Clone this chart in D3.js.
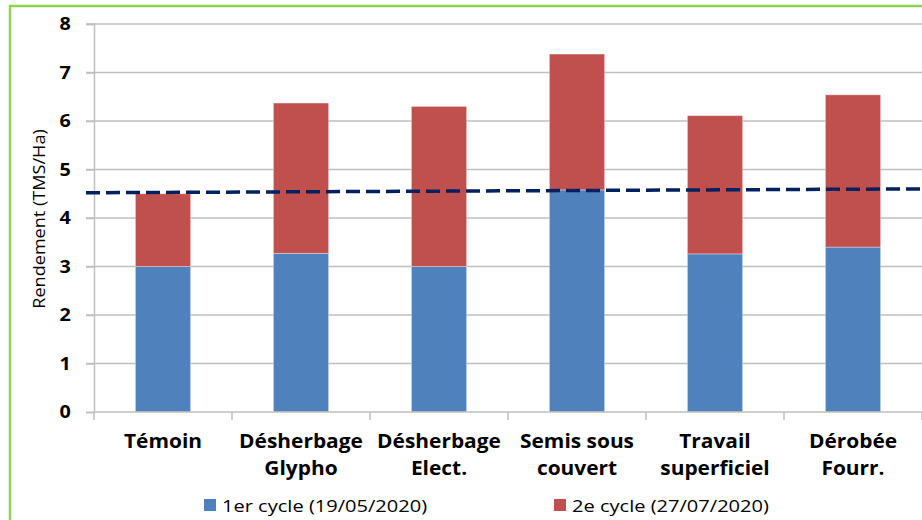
<!DOCTYPE html>
<html>
<head>
<meta charset="utf-8">
<script src="https://cdn.jsdelivr.net/npm/d3@7"></script>
<style>
  html, body { margin: 0; padding: 0; background: #fff; }
  svg { display: block; font-family: "Open Sans", "Liberation Sans", sans-serif; }
</style>
</head>
<body>
<svg id="chart" width="922" height="520"></svg>
<script>
// Treatments (two-line labels)
const categories = [
  ["Témoin"],
  ["Désherbage", "Glypho"],
  ["Désherbage", "Elect."],
  ["Semis sous", "couvert"],
  ["Travail", "superficiel"],
  ["Dérobée", "Fourr."]
];
// Yield per cut (TMS/Ha)
const cycle1 = [3.0, 3.27, 3.0, 4.58, 3.26, 3.4];
const cycle2 = [1.5, 3.1, 3.3, 2.8, 2.85, 3.14];
const seriesNames = ["1er cycle (19/05/2020)", "2e cycle (27/07/2020)"];
const seriesColors = ["#4f81bd", "#c0504d"];
const yTicks = [0, 1, 2, 3, 4, 5, 6, 7, 8];
// Reference line (start and end value across the plot)
const refLine = [4.52, 4.60];

const svg = d3.select("#chart");
const margin = { left: 94, right: 0 };
const W = 922;
const stretch = 1.1; // slightly widened lettering

// Outer frame
svg.append("rect")
  .attr("x", 10).attr("y", 6).attr("width", 940).attr("height", 540)
  .attr("fill", "none").attr("stroke", "#92d050").attr("stroke-width", 2.5);

const x = d3.scaleBand()
  .domain(d3.range(categories.length))
  .range([margin.left, W - margin.right])
  .paddingInner(0.6).paddingOuter(0.3);
const xBounds = d3.scaleLinear().domain([0, categories.length]).range([margin.left, W - margin.right]);
const y = d3.scaleLinear().domain([0, 8]).range([412, 24]);

// Gridlines
svg.append("g").selectAll("line").data(yTicks.slice(1)).join("line")
  .attr("x1", 86).attr("x2", W).attr("y1", d => y(d)).attr("y2", d => y(d))
  .attr("stroke", "#bfbfbf").attr("stroke-width", 1.5);

// Y axis
const yAxis = d3.axisLeft(y).tickValues(yTicks).tickSize(8).tickPadding(15);
const gy = svg.append("g").attr("transform", `translate(${margin.left},0)`).call(yAxis);
gy.select(".domain").attr("stroke", "#bfbfbf").attr("stroke-width", 1.5);
gy.selectAll(".tick line").attr("stroke", "#bfbfbf").attr("stroke-width", 1.5);
gy.selectAll(".tick text")
  .attr("font-size", 18).attr("font-weight", "bold").attr("fill", "#000")
  .style("font-family", "'Open Sans', sans-serif")
  .attr("x", -21).attr("transform", `scale(${stretch},1)`);

// Stacked bars
const stackData = categories.map((c, i) => ({ i, a: cycle1[i], b: cycle2[i] }));
const stack = d3.stack().keys(["a", "b"])(stackData);
svg.append("g").selectAll("g").data(stack).join("g")
  .attr("fill", (d, k) => seriesColors[k])
  .selectAll("rect").data(d => d).join("rect")
  .attr("x", d => x(d.data.i))
  .attr("width", x.bandwidth())
  .attr("y", d => y(d[1]))
  .attr("height", d => y(d[0]) - y(d[1]))
  .attr("stroke", "#ffffff").attr("stroke-opacity", 0.35).attr("stroke-width", 1);

// X axis
svg.append("line")
  .attr("x1", margin.left).attr("x2", W).attr("y1", y(0)).attr("y2", y(0))
  .attr("stroke", "#bfbfbf").attr("stroke-width", 1.5);
svg.append("g").selectAll("line").data(d3.range(categories.length + 1)).join("line")
  .attr("x1", d => xBounds(d)).attr("x2", d => xBounds(d))
  .attr("y1", y(0)).attr("y2", y(0) + 8)
  .attr("stroke", "#bfbfbf").attr("stroke-width", 1.5);

const labels = svg.append("g").selectAll("text").data(categories).join("text")
  .attr("transform", (d, i) => `translate(${x(i) + x.bandwidth() / 2},448) scale(${stretch},1)`)
  .attr("text-anchor", "middle")
  .attr("font-size", 19).attr("font-weight", "bold").attr("fill", "#000");
labels.selectAll("tspan").data(d => d).join("tspan")
  .attr("x", 0)
  .attr("dy", (d, j) => j === 0 ? 0 : 27)
  .text(d => d);

// Dashed reference line
svg.append("line")
  .attr("x1", 86).attr("x2", W)
  .attr("y1", y(refLine[0])).attr("y2", y(refLine[1]))
  .attr("stroke", "#002060").attr("stroke-width", 3.5)
  .attr("stroke-dasharray", "14,6");

// Y axis title
svg.append("text")
  .attr("transform", `translate(45,${y(3.98)}) rotate(-90) scale(1.13,1)`)
  .attr("text-anchor", "middle")
  .attr("font-size", 16).attr("fill", "#000")
  .text("Rendement (TMS/Ha)");

// Legend
const legendX = [204, 554];
const lg = svg.append("g").selectAll("g").data(seriesNames).join("g")
  .attr("transform", (d, i) => `translate(${legendX[i]},499)`);
lg.append("rect").attr("x", 0).attr("y", 0).attr("width", 12).attr("height", 12)
  .attr("fill", (d, i) => seriesColors[i]);
lg.append("text").attr("transform", "translate(18,12.5) scale(1.18,1)")
  .attr("font-size", 17).attr("fill", "#000").text(d => d);
</script>
</body>
</html>
